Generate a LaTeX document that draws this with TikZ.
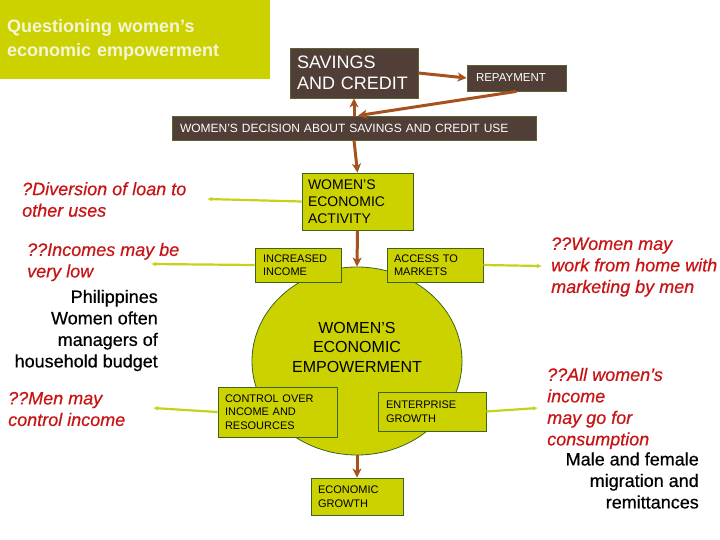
\documentclass[tikz,border=0pt]{standalone}
\usepackage{fontspec}
\setmainfont{Liberation Sans}
\newfontfamily\heavyfont{Liberation Sans}[FakeBold=0.5]
\usetikzlibrary{arrows.meta,shapes.geometric,calc}
\definecolor{limec}{RGB}{204,210,0}
\definecolor{edgec}{RGB}{60,100,30}
\definecolor{brownc}{RGB}{80,62,55}
\definecolor{boxedgec}{RGB}{90,100,50}
\definecolor{arrowc}{RGB}{165,82,30}
\definecolor{linec}{RGB}{196,210,25}
\definecolor{redc}{RGB}{200,20,20}
\definecolor{creamc}{RGB}{245,245,215}
\tikzset{
  brownbox/.style={draw=boxedgec, line width=0.8pt, fill=brownc, text=white, align=left, inner ysep=0pt},
  greenbox/.style={draw=edgec, line width=0.8pt, fill=limec, text=black, align=left, inner ysep=0pt, font=\fontsize{11}{13.5}\selectfont},
  brownarrow/.style={draw=arrowc, line width=3pt, -{Stealth[length=9pt,width=9pt,inset=2.5pt]}},
  greenline/.style={draw=linec, line width=2.2pt, -{Latex[length=5pt,width=4.5pt]}},
  question/.style={text=redc, font=\heavyfont\fontsize{18}{21.5}\selectfont\itshape, align=left, inner sep=0pt, anchor=west},
  note/.style={text=black, font=\heavyfont\fontsize{18}{21.5}\selectfont, align=right, inner sep=0pt, anchor=east},
}
\begin{document}
\begin{tikzpicture}[x=1pt,y=-1pt]
\useasboundingbox (0,0) rectangle (720,540);
\fill[white] (0,0) rectangle (720,540);

% title
\node[anchor=north west, fill=limec, minimum width=270pt, minimum height=79pt, text width=256pt, inner xsep=7pt, inner ysep=0pt, align=left, text=creamc, font=\bfseries\fontsize{18}{24}\selectfont] (title) at (0,0) {Questioning women’s\\economic empowerment};

% dark boxes
\node[brownbox, minimum width=128pt, minimum height=50pt, text width=114pt, inner xsep=7pt, font=\fontsize{18}{21}\selectfont] (sav) at (354,73) {SAVINGS\\AND CREDIT};
\node[brownbox, minimum width=99pt, minimum height=26pt, text width=81pt, inner xsep=9pt, font=\fontsize{11.5}{13}\selectfont] (rep) at (516.5,78) {REPAYMENT};
\node[brownbox, minimum width=364pt, minimum height=24pt, text width=348pt, inner xsep=8pt, font=\fontsize{12}{14}\selectfont] (dec) at (354,128) {WOMEN'S DECISION ABOUT SAVINGS AND CREDIT USE};

% green boxes
\node[greenbox, minimum width=111pt, minimum height=57pt, text width=99pt, inner xsep=6pt, font=\fontsize{14}{16.7}\selectfont] (wea) at (357.5,201.5) {WOMEN'S\\ECONOMIC\\ACTIVITY};
\node[ellipse, draw=edgec, line width=0.8pt, fill=limec, minimum width=210pt, minimum height=188pt, inner sep=0pt] (emp) at (357,361) {};
\node[font=\fontsize{16}{19.5}\selectfont, align=center, inner sep=0pt] (empt) at (357,347) {WOMEN'S\\ECONOMIC\\EMPOWERMENT};
\node[greenbox, minimum width=86pt, minimum height=34pt, text width=70pt, inner xsep=8pt] (inc) at (298,265) {INCREASED\\INCOME};
\node[greenbox, minimum width=96pt, minimum height=34pt, text width=82pt, inner xsep=7pt] (acc) at (435,265) {ACCESS TO\\MARKETS};
\node[greenbox, minimum width=119pt, minimum height=50pt, text width=105pt, inner xsep=7pt] (ctrl) at (277.5,412) {CONTROL OVER\\INCOME AND\\RESOURCES};
\node[greenbox, minimum width=108pt, minimum height=39pt, text width=92pt, inner xsep=8pt] (ent) at (432,411.5) {ENTERPRISE\\GROWTH};
\node[greenbox, minimum width=92pt, minimum height=37pt, text width=78pt, inner xsep=7pt] (eg) at (357,496.5) {ECONOMIC\\GROWTH};

% texts
\node[question] (q1) at (22,199.5) {?Diversion of loan to\\other uses};
\node[question] (q2) at (27,262) {??Incomes may be\\very low};
\node[note] (n1) at (158,330.5) {Philippines\\Women often\\managers of\\household budget};
\node[question] (q3) at (8,409) {??Men may\\control income};
\node[question] (q4) at (551,267) {??Women may\\work from home with\\marketing by men};
\node[question] (q5) at (547,408.5) {??All women’s\\income\\may go for\\consumption};
\node[note] (n2) at (699,480.5) {Male and female\\migration and\\remittances};

% free ends
\coordinate (e1) at (207,199);
\coordinate (e2) at (151,264);
\coordinate (e3) at (153,408);
\coordinate (e4) at (542,266);
\coordinate (e5) at (538,408);

% brown arrows
\draw[brownarrow] (sav.east) -- (rep.west);
\draw[brownarrow] (rep.south) -- ($(dec.north)+(4,0)$);
\draw[brownarrow] (dec.north) -- (sav.south);
\draw[brownarrow] (dec.south) -- (wea.north);
\draw[brownarrow] (wea.south) -- (emp.north);
\draw[brownarrow] (emp.south) -- (eg.north);

% green lines
\draw[greenline] (wea.west) -- (e1);
\draw[greenline] (inc.west) -- (e2);
\draw[greenline] (ctrl.west) -- (e3);
\draw[greenline] (acc.east) -- (e4);
\draw[greenline] (ent.east) -- (e5);
\end{tikzpicture}
\end{document}
